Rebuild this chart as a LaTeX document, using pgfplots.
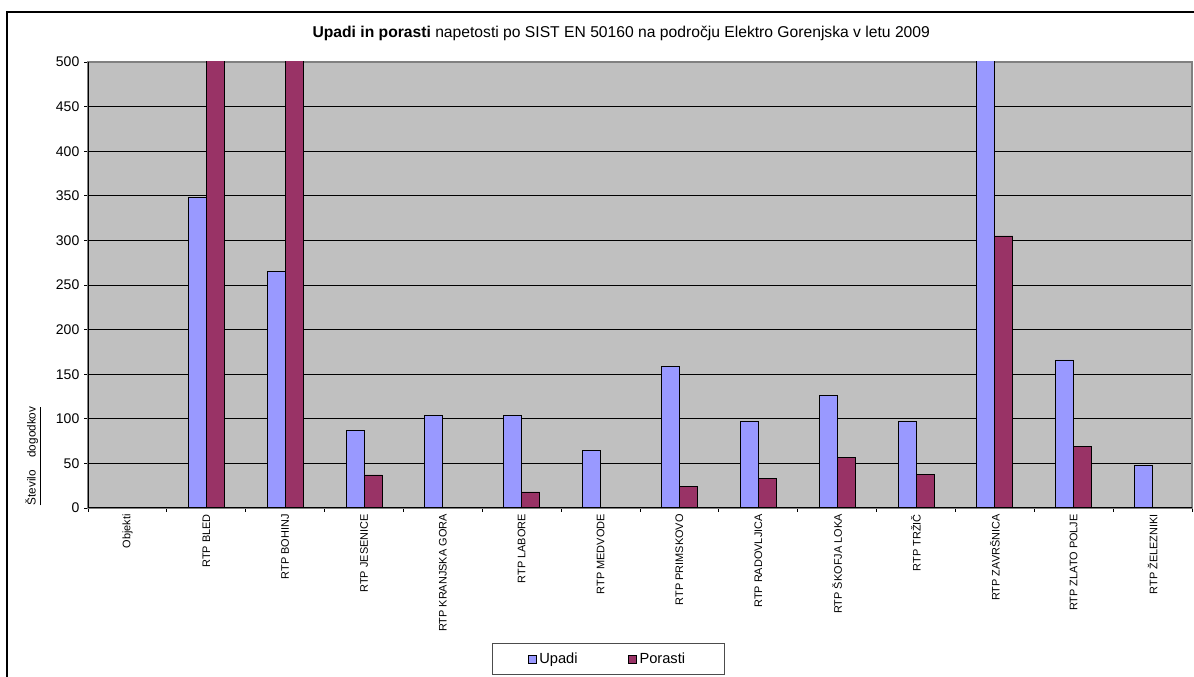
\documentclass[border=0pt]{standalone}
\usepackage{fontspec}
\setmainfont{Liberation Sans}
\usepackage{pgfplots}
\pgfplotsset{compat=1.18}
\definecolor{upadi}{HTML}{9999FF}
\definecolor{porasti}{HTML}{993366}
\definecolor{plotbg}{HTML}{C0C0C0}
\begin{document}
\begin{tikzpicture}
\useasboundingbox (0,0) rectangle (895.5pt,507.75pt);
\draw[line width=1pt] (5.25pt,-10pt) -- (5.25pt,498.75pt) -- (910pt,498.75pt);
\begin{axis}[
  at={(66pt,126.75pt)}, anchor=south west,
  scale only axis, width=828pt, height=334.5pt,
  xmin=-0.5, xmax=13.5, ymin=0, ymax=500,
  ybar=0pt, bar width=13.5pt,
  axis background/.style={fill=plotbg},
  axis line style={draw=black!50, line width=0.8pt},
  ymajorgrids, grid style={black, line width=0.6pt},
  ytick={0,50,...,500},
  xtick={0,...,13},
  xticklabels={Objekti, RTP BLED, RTP BOHINJ, RTP JESENICE, RTP KRANJSKA GORA, RTP LABORE, RTP MEDVODE, RTP PRIMSKOVO, RTP RADOVLJICA, RTP ŠKOFJA LOKA, RTP TRŽIČ, RTP ZAVRŠNICA, RTP ZLATO POLJE, RTP ŽELEZNIKI},
  minor xtick={-0.5,0.5,...,13.5},
  major x tick style={draw=none},
  minor x tick style={black, line width=0.6pt},
  major y tick style={black, line width=0.6pt},
  major tick length=3pt, minor tick length=3pt,
  tick align=outside, xtick pos=bottom, ytick pos=left,
  /pgf/number format/assume math mode=true,
  y tick label style={font=\fontsize{10.5}{12}\selectfont},
  x tick label style={rotate=90, anchor=east, font=\fontsize{8.2}{10}\selectfont, inner sep=1.5pt},
  ylabel={\underline{Število\hspace{7pt} dogodkov}},
  ylabel style={at={(axis description cs:-0.0498,0.1166)}, anchor=center, font=\fontsize{8.8}{10}\selectfont},
  title={\textbf{Upadi in porasti} napetosti po SIST EN 50160 na področju Elektro Gorenjska v letu 2009},
  title style={at={(axis description cs:0.483,1)}, anchor=base, yshift=12pt, font=\fontsize{11.75}{14}\selectfont},
  legend columns=2,
  legend style={at={(axis description cs:0.471,-0.3386)}, anchor=center, draw=black!70, inner xsep=27pt, inner ysep=5pt, font=\fontsize{11}{13}\selectfont, /tikz/every even column/.append style={column sep=36pt}},
]
\addplot[fill=upadi, draw=black, line width=0.6pt, legend image code/.code={\draw[fill=upadi,draw=black,line width=0.4pt] (0pt,-3pt) rectangle (6pt,3pt);}] coordinates {
  (1,348) (2,265) (3,87) (4,104) (5,104) (6,65) (7,159) (8,97) (9,126) (10,97) (11,560) (12,166) (13,48)
};
\addlegendentry{Upadi}
\addplot[fill=porasti, draw=black, line width=0.6pt, legend image code/.code={\draw[fill=porasti,draw=black,line width=0.4pt] (0pt,-3pt) rectangle (6pt,3pt);}] coordinates {
  (1,560) (2,560) (3,37) (5,18) (6,1) (7,24) (8,33) (9,57) (10,38) (11,305) (12,69)
};
\addlegendentry{Porasti}
\draw[black, line width=0.8pt] (rel axis cs:0,0) -- (rel axis cs:0,1);
\draw[black, line width=0.8pt] (rel axis cs:0,0) -- (rel axis cs:1,0);
\end{axis}
\end{tikzpicture}
\end{document}
